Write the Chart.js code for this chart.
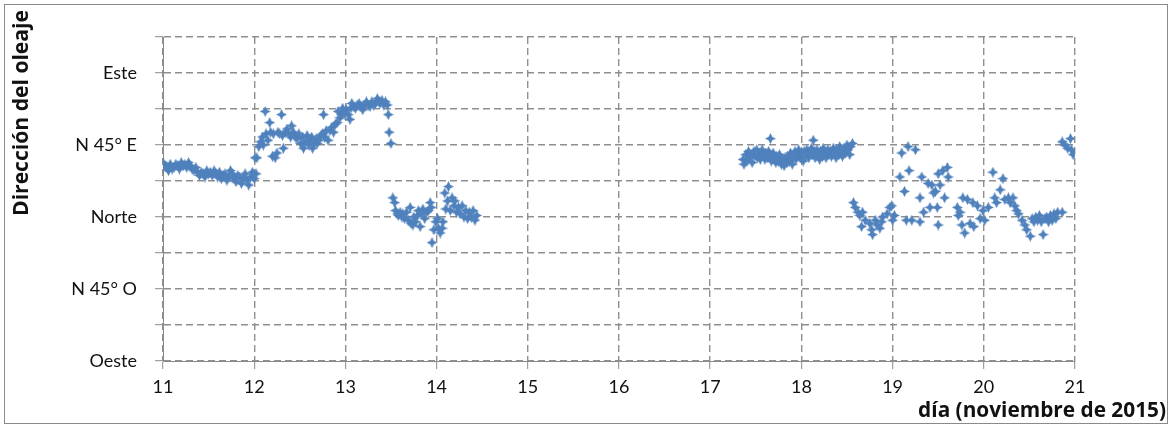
<!DOCTYPE html>
<html lang="es">
<head>
<meta charset="utf-8">
<title>Dirección del oleaje</title>
<script src="https://cdn.jsdelivr.net/npm/chart.js@4/dist/chart.umd.min.js"></script>
<style>
  html, body { margin: 0; padding: 0; background: #fff; }
  #wrap { position: relative; width: 1172px; height: 427px; }
</style>
</head>
<body>
<div id="wrap"><canvas id="c" width="1172" height="427"></canvas></div>
<script>
// Dirección: 0 = Norte, +90 = Este, -90 = Oeste (grados)
// Cada punto: [día de noviembre de 2015, dirección]

const tramo11a12 = [
  [11.00,34],[11.02,32],[11.04,31],[11.06,29],[11.08,33],[11.10,30],[11.12,31],[11.14,33],
  [11.16,32],[11.18,30],[11.20,34],[11.22,32],[11.24,33],[11.26,31],[11.28,34],[11.30,32],
  [11.32,30],[11.34,29],[11.36,31],[11.38,28],[11.40,26],[11.42,28],[11.44,27],[11.46,25],
  [11.48,29],[11.50,27],[11.52,28],[11.54,26],[11.56,29],[11.58,27],[11.60,25],[11.62,28],
  [11.64,24],[11.66,26],[11.68,27],[11.70,23],[11.72,25],[11.74,29],[11.76,27],[11.78,24],
  [11.80,22],[11.82,26],[11.84,25],[11.86,21],[11.88,24],[11.90,27],[11.92,23],[11.94,20],
  [11.96,25],[11.98,28],[12.00,24],[12.01,37],[12.02,27]
];

const tramo12a13 = [
  [12.03,37],[12.05,44],[12.07,47],[12.09,50],[12.10,45],[12.12,66],[12.13,52],[12.15,48],
  [12.17,59],[12.18,53],[12.20,38],[12.21,52],[12.23,37],[12.25,40],[12.26,53],[12.28,52],
  [12.30,64],[12.31,51],[12.32,43],[12.34,53],[12.36,55],[12.38,52],[12.40,50],[12.41,57],
  [12.43,53],[12.45,50],[12.47,49],[12.49,52],[12.51,46],[12.53,50],[12.54,43],[12.56,47],
  [12.58,51],[12.60,45],[12.61,48],[12.63,50],[12.64,43],[12.66,46],[12.68,49],[12.69,46],
  [12.71,48],[12.73,51],[12.75,52],[12.76,64],[12.77,50],[12.79,54],[12.81,48],[12.83,54],
  [12.85,56],[12.87,53],[12.89,58],[12.91,59],[12.92,66],[12.94,62],[12.96,64],[12.97,68],
  [12.99,65],[13.01,67],[13.03,64],[13.05,61],[13.06,68],[13.07,71],[13.09,69],[13.11,68],
  [13.13,70],[13.15,71],[13.17,69],[13.19,67],[13.21,70],[13.23,72],[13.25,70],[13.27,69],
  [13.29,72],[13.31,70],[13.33,71],[13.35,74],[13.37,72],[13.38,71],[13.40,73],[13.42,70],
  [13.44,72],[13.46,70],[13.47,64],[13.48,53],[13.50,46]
];

const tramo13a14 = [
  [13.52,12],[13.54,9],[13.55,4],[13.57,2],[13.58,1],[13.60,3],[13.62,0],[13.63,2],
  [13.65,-1],[13.67,3],[13.69,-2],[13.71,6],[13.72,-4],[13.74,-5],[13.75,0],[13.77,-3],
  [13.79,1],[13.80,4],[13.82,-6],[13.84,2],[13.85,5],[13.87,-1],[13.89,3],[13.91,4],
  [13.93,9],[13.94,6],[13.95,-16],[13.97,-8],[13.99,-3],[14.01,-1],[14.02,-7],[14.04,-10],
  [14.06,-7],[14.07,-3],[14.09,15],[14.10,5],[14.12,10],[14.13,19],[14.15,4],[14.17,12],
  [14.19,7],[14.20,10],[14.22,3],[14.24,6],[14.26,2],[14.28,7],[14.30,0],[14.32,4],
  [14.34,-1],[14.36,3],[14.38,0],[14.40,4],[14.42,-2],[14.44,1]
];

const tramo17a18 = [
  [17.36,36],[17.37,33],[17.39,39],[17.40,35],[17.42,41],[17.43,37],[17.45,39],[17.46,34],
  [17.48,41],[17.49,38],[17.51,42],[17.52,37],[17.54,40],[17.55,36],[17.57,42],[17.58,39],
  [17.60,36],[17.61,40],[17.63,37],[17.64,41],[17.66,49],[17.66,38],[17.67,35],[17.69,40],
  [17.70,36],[17.72,34],[17.73,38],[17.75,35],[17.76,39],[17.78,33],[17.79,36],[17.81,32],
  [17.82,37],[17.84,34],[17.85,38],[17.87,35],[17.88,40],[17.90,33],[17.91,37],[17.93,41],
  [17.94,36],[17.96,39],[17.97,42],[17.99,37],[18.00,40],[18.02,35],[18.03,41],[18.05,38],
  [18.06,42],[18.08,37],[18.09,40],[18.11,43],[18.12,39],[18.13,48],[18.14,41],[18.15,37],
  [18.17,42],[18.18,39],[18.20,36],[18.21,41],[18.23,38],[18.24,43],[18.26,40],[18.27,37],
  [18.29,42],[18.30,39],[18.32,41],[18.33,38],[18.35,43],[18.36,40],[18.38,37],[18.39,42],
  [18.41,39],[18.42,44],[18.44,41],[18.45,38],[18.47,43],[18.48,40],[18.50,45],[18.51,42],
  [18.53,39],[18.54,44],[18.56,46]
];

const tramo18a21 = [
  [18.57,9],[18.59,6],[18.62,3],[18.64,1],[18.66,-6],[18.67,3],[18.70,-2],[18.75,-4],
  [18.77,-8],[18.78,-11],[18.81,-2],[18.83,-5],[18.86,-7],[18.88,-3],[18.89,0],[18.94,2],
  [18.97,6],[18.99,7],[19.00,-2],[19.02,1],[19.08,25],[19.10,40],[19.13,16],[19.15,-2],
  [19.17,44],[19.18,29],[19.21,-2],[19.25,42],[19.30,-3],[19.30,12],[19.32,25],[19.34,3],
  [19.39,21],[19.41,6],[19.43,20],[19.45,15],[19.47,16],[19.49,6],[19.50,27],[19.50,-5],
  [19.52,20],[19.55,29],[19.57,12],[19.60,31],[19.61,25],[19.71,6],[19.72,1],[19.74,3],
  [19.76,-5],[19.77,12],[19.79,-10],[19.82,11],[19.85,-4],[19.88,9],[19.89,-6],[19.93,7],
  [19.96,-1],[19.99,4],[20.01,-2],[20.05,6],[20.10,28],[20.12,12],[20.14,9],[20.18,17],
  [20.21,24],[20.23,11],[20.27,12],[20.29,9],[20.32,12],[20.34,7],[20.36,4],[20.38,2],
  [20.42,-2],[20.45,-5],[20.47,-8],[20.51,-12],[20.53,-1],[20.55,-3],[20.57,0],[20.59,-2],
  [20.61,1],[20.63,-3],[20.65,-11],[20.67,-1],[20.69,0],[20.71,-3],[20.73,1],[20.75,-2],
  [20.77,2],[20.79,-1],[20.81,3],[20.86,3],
  [20.86,47],[20.89,45],[20.92,43],[20.95,49],[20.96,42],[20.98,39]
];

// Eje Y: valores con etiqueta
const yTickValues = [90, 45, 0, -45, -90];
const yTickLabels = ['Este', 'N 45° E', 'Norte', 'N 45° O', 'Oeste'];
// Eje X: días
const xTickValues = [11, 12, 13, 14, 15, 16, 17, 18, 19, 20, 21];

const yTitle = 'Dirección del oleaje';
const xTitle = 'día (noviembre de 2015)';

const markerColor = '#4F81BD';
const gridColor = '#8f8f8f';
const axisColor = '#8a8a8a';
const textColor = '#111';
const labelFont = 'Lato, "Liberation Sans", sans-serif';
const titleFont = '"Open Sans", Lato, sans-serif';

// Marcador en forma de estrella de cuatro puntas
function starMarker(size, color) {
  const cv = document.createElement('canvas');
  cv.width = size; cv.height = size;
  const g = cv.getContext('2d');
  const c = size / 2, r = size / 2, ri = size * 0.24;
  g.fillStyle = color;
  g.beginPath();
  for (let i = 0; i < 8; i++) {
    const a = -Math.PI / 2 + i * Math.PI / 4;
    const rr = i % 2 === 0 ? r : ri;
    const px = c + rr * Math.cos(a), py = c + rr * Math.sin(a);
    if (i === 0) g.moveTo(px, py); else g.lineTo(px, py);
  }
  g.closePath();
  g.fill();
  return cv;
}

const puntos = [].concat(tramo11a12, tramo12a13, tramo13a14, tramo17a18, tramo18a21)
  .map(([x, y]) => ({ x, y }));

// Ajusta el tamaño de letra para que el texto ocupe el ancho indicado
function fitFont(ctx, text, weight, family, width) {
  ctx.font = weight + ' 20px ' + family;
  const w = ctx.measureText(text).width;
  return weight + ' ' + (20 * width / w).toFixed(2) + 'px ' + family;
}

const marcoYTitulos = {
  id: 'marcoYTitulos',
  beforeDraw(chart) {
    const ctx = chart.ctx;
    ctx.save();
    ctx.fillStyle = '#fff';
    ctx.fillRect(0, 0, chart.width, chart.height);
    ctx.restore();
  },
  afterDraw(chart) {
    const ctx = chart.ctx;
    ctx.save();
    ctx.strokeStyle = '#8a8a8a';
    ctx.lineWidth = 1;
    ctx.strokeRect(4.5, 4.5, 1163, 419);

    ctx.fillStyle = textColor;
    ctx.font = fitFont(ctx, yTitle, 'bold', titleFont, 206);
    ctx.textAlign = 'center';
    ctx.textBaseline = 'middle';
    ctx.save();
    ctx.translate(22, 113);
    ctx.rotate(-Math.PI / 2);
    ctx.fillText(yTitle, 0, 0);
    ctx.restore();

    ctx.font = fitFont(ctx, xTitle, 'bold', titleFont, 248);
    ctx.textAlign = 'right';
    ctx.textBaseline = 'alphabetic';
    ctx.fillText(xTitle, 1166, 417);
    ctx.restore();
  }
};

new Chart(document.getElementById('c'), {
  type: 'scatter',
  data: {
    datasets: [{
      data: puntos,
      pointStyle: starMarker(11, markerColor),
      pointRadius: 5.5,
      pointHoverRadius: 5.5,
      backgroundColor: markerColor,
      borderColor: markerColor,
      showLine: false
    }]
  },
  options: {
    responsive: false,
    animation: false,
    events: [],
    layout: { padding: { top: 37, right: 97, left: 0, bottom: 0 } },
    plugins: { legend: { display: false }, tooltip: { enabled: false } },
    scales: {
      x: {
        type: 'linear',
        min: 11, max: 21,
        afterBuildTicks(s) { s.ticks = xTickValues.map(v => ({ value: v })); },
        afterFit(s) { s.height = 66; },
        ticks: {
          color: textColor,
          font: { family: labelFont, size: 18 },
          padding: 7,
          maxRotation: 0,
          autoSkip: false,
          callback: v => String(v)
        },
        grid: {
          color: gridColor, lineWidth: 1.4,
          tickLength: 8, tickColor: axisColor, tickWidth: 1, tickBorderDash: []
        },
        border: { display: true, color: axisColor, width: 1, dash: [7, 4] }
      },
      y: {
        type: 'linear',
        min: -90, max: 112.5,
        ticks: {
          stepSize: 22.5,
          color: textColor,
          font: { family: labelFont, size: 18 },
          padding: 18,
          autoSkip: false,
          callback: v => {
            const i = yTickValues.indexOf(v);
            return i >= 0 ? yTickLabels[i] : '';
          }
        },
        afterFit(s) { s.width = 163; },
        grid: {
          color: gridColor, lineWidth: 1.4,
          tickLength: 8, tickColor: axisColor, tickWidth: 1, tickBorderDash: []
        },
        border: { display: true, color: axisColor, width: 1, dash: [7, 4] }
      }
    }
  },
  plugins: [marcoYTitulos]
});
</script>
</body>
</html>
